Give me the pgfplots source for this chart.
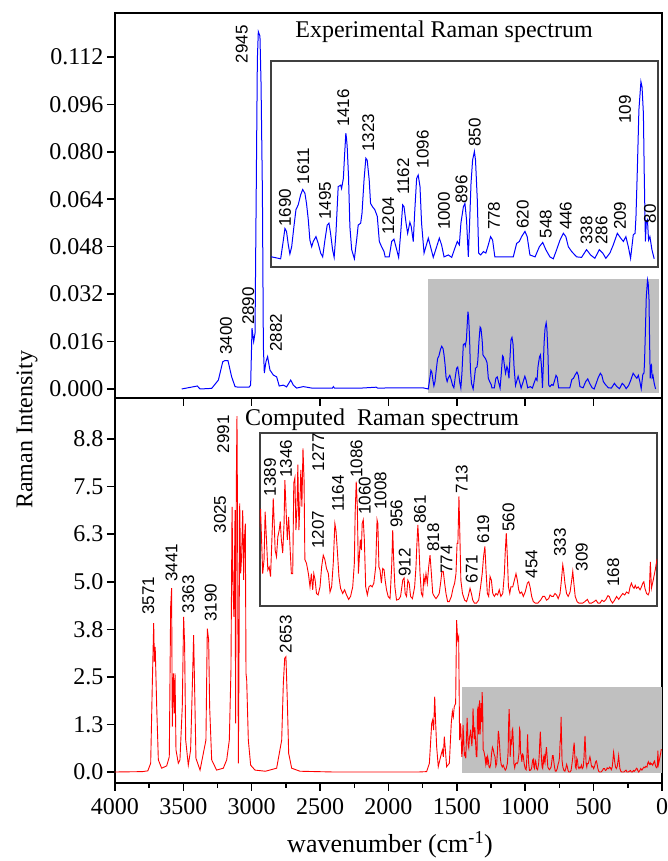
\documentclass[border=0pt]{standalone}
\usepackage{fontspec}
\setmainfont{Liberation Serif}
\newfontfamily\lab{Liberation Sans}
\usepackage{pgfplots}
\usepackage{pgfplotstable}
\pgfplotsset{compat=1.18}
\definecolor{silver}{RGB}{192,192,192}

\pgfplotstableread[row sep=\\]{
w I\\
3512 0.0000\\ 3398 0.0010\\ 3378 0.0000\\ 3293 0.0002\\ 3244 0.0030\\ 3212 0.0092\\ 3195 0.0096\\ 3174 0.0096\\ 3147 0.0041\\ 3122 0.0008\\
3100 0.0006\\ 3020 0.0006\\ 3008 0.0013\\ 2998 0.0205\\ 2986 0.0160\\ 2976 0.0188\\ 2969 0.0570\\ 2959 0.1110\\ 2952 0.1205\\ 2940 0.1190\\
2932 0.1030\\ 2922 0.0660\\ 2915 0.0143\\ 2908 0.0054\\ 2896 0.0092\\ 2884 0.0109\\ 2867 0.0064\\ 2842 0.0047\\ 2818 0.0041\\ 2799 0.0010\\
2769 0.0013\\ 2745 0.0007\\ 2715 0.0030\\ 2696 0.0013\\ 2672 0.0003\\ 2623 0.0008\\ 2560 0.0003\\ 2410 0.0003\\ 2403 0.0008\\ 2395 0.0003\\
2200 0.0003\\ 2090 0.0006\\ 2080 0.0003\\ 1900 0.0004\\ 1749 0.0004\\ 1709 0.0000\\ 1697 0.0039\\ 1690 0.0063\\ 1683 0.0057\\ 1675 0.0029\\
1668 0.0010\\ 1660 0.0025\\ 1650 0.0067\\ 1641 0.0102\\ 1631 0.0112\\ 1620 0.0133\\ 1611 0.0144\\ 1601 0.0136\\ 1594 0.0115\\ 1586 0.0081\\
1579 0.0039\\ 1571 0.0025\\ 1564 0.0036\\ 1552 0.0046\\ 1542 0.0032\\ 1531 0.0012\\ 1522 0.0004\\ 1512 0.0039\\ 1502 0.0070\\ 1494 0.0074\\
1487 0.0053\\ 1478 0.0019\\ 1471 0.0003\\ 1463 0.0053\\ 1453 0.0150\\ 1442 0.0153\\ 1438 0.0146\\ 1430 0.0167\\ 1425 0.0212\\ 1419 0.0261\\
1416 0.0250\\ 1413 0.0233\\ 1407 0.0170\\ 1401 0.0067\\ 1393 0.0019\\ 1381 0.0000\\ 1371 0.0039\\ 1364 0.0070\\ 1353 0.0074\\ 1347 0.0095\\
1338 0.0164\\ 1330 0.0209\\ 1324 0.0205\\ 1315 0.0164\\ 1309 0.0115\\ 1300 0.0108\\ 1290 0.0102\\ 1279 0.0088\\ 1270 0.0036\\ 1260 0.0025\\
1249 0.0015\\ 1244 0.0004\\ 1226 0.0004\\ 1215 0.0036\\ 1205 0.0041\\ 1196 0.0025\\ 1184 0.0003\\ 1175 0.0053\\ 1166 0.0112\\ 1160 0.0108\\
1151 0.0074\\ 1144 0.0053\\ 1134 0.0076\\ 1128 0.0067\\ 1119 0.0036\\ 1112 0.0102\\ 1104 0.0167\\ 1097 0.0174\\ 1089 0.0150\\ 1082 0.0074\\
1071 0.0012\\ 1063 0.0025\\ 1052 0.0043\\ 1042 0.0025\\ 1030 0.0003\\ 1015 0.0025\\ 1003 0.0043\\ 993 0.0029\\ 982 0.0004\\ 963 0.0008\\
948 0.0003\\ 934 0.0022\\ 923 0.0036\\ 914 0.0029\\ 907 0.0074\\ 896 0.0108\\ 889 0.0115\\ 882 0.0081\\ 874 0.0004\\ 870 0.0053\\
862 0.0157\\ 855 0.0205\\ 847 0.0223\\ 842 0.0205\\ 834 0.0122\\ 828 0.0012\\ 819 0.0008\\ 807 0.0015\\ 796 0.0012\\ 785 0.0029\\
775 0.0046\\ 766 0.0039\\ 756 0.0004\\ 674 0.0004\\ 659 0.0032\\ 647 0.0036\\ 637 0.0046\\ 622 0.0057\\ 612 0.0046\\ 600 0.0008\\
577 0.0004\\ 558 0.0025\\ 543 0.0034\\ 529 0.0019\\ 511 0.0004\\ 496 0.0000\\ 481 0.0019\\ 466 0.0039\\ 451 0.0053\\ 440 0.0046\\
429 0.0025\\ 414 0.0015\\ 392 0.0004\\ 370 0.0003\\ 348 0.0019\\ 330 0.0008\\ 311 0.0001\\ 291 0.0019\\ 276 0.0012\\ 262 0.0001\\
244 0.0012\\ 229 0.0029\\ 211 0.0053\\ 196 0.0043\\ 184 0.0036\\ 173 0.0046\\ 162 0.0025\\ 152 0.0001\\ 140 0.0050\\ 132 0.0053\\
128 0.0088\\ 122 0.0184\\ 115 0.0309\\ 106 0.0368\\ 101 0.0357\\ 95 0.0302\\ 91 0.0170\\ 86 0.0036\\ 82 0.0077\\ 77 0.0081\\
72 0.0039\\ 66 0.0046\\ 57 0.0019\\ 47 0.0000\\
}\expdata

\pgfplotstableread[row sep=\\]{
w I\\
4000 0.00\\ 3800 0.01\\ 3760 0.03\\ 3739 0.23\\ 3727 2.33\\ 3717 3.91\\ 3712 2.90\\ 3706 3.29\\ 3695 1.72\\ 3683 0.32\\
3659 0.10\\ 3622 0.16\\ 3603 0.40\\ 3593 4.34\\ 3586 4.83\\ 3581 1.19\\ 3573 2.59\\ 3566 1.54\\ 3561 2.59\\ 3554 0.58\\
3537 0.23\\ 3525 0.32\\ 3508 1.72\\ 3498 4.08\\ 3491 3.38\\ 3483 0.84\\ 3464 0.18\\ 3447 0.58\\ 3432 2.59\\ 3425 3.60\\
3417 2.07\\ 3408 0.36\\ 3378 0.05\\ 3335 0.84\\ 3325 3.77\\ 3315 3.47\\ 3308 1.72\\ 3293 0.32\\ 3257 0.05\\ 3208 0.10\\
3183 0.32\\ 3164 0.84\\ 3152 2.68\\ 3144 6.97\\ 3137 4.78\\ 3130 4.08\\ 3122 6.88\\ 3118 1.28\\ 3113 7.50\\ 3108 9.35\\
3103 6.10\\ 3098 0.23\\ 3093 3.00\\ 3088 7.06\\ 3081 5.22\\ 3074 5.66\\ 3066 6.88\\ 3059 5.05\\ 3054 6.10\\ 3047 6.53\\
3042 2.59\\ 3037 2.42\\ 3025 0.84\\ 3008 0.18\\ 2976 0.05\\ 2900 0.02\\ 2818 0.10\\ 2781 0.84\\ 2769 2.33\\ 2759 2.99\\
2750 3.03\\ 2740 1.89\\ 2730 0.49\\ 2708 0.10\\ 2647 0.02\\ 2400 0.00\\ 1780 0.00\\ 1721 0.01\\ 1701 0.23\\ 1684 1.28\\
1677 1.37\\ 1670 1.10\\ 1662 1.98\\ 1655 1.28\\ 1648 0.67\\ 1636 0.14\\ 1619 0.40\\ 1606 0.58\\ 1599 0.40\\ 1592 0.93\\
1584 0.58\\ 1575 0.14\\ 1555 0.23\\ 1541 1.28\\ 1533 1.59\\ 1526 1.45\\ 1519 1.72\\ 1509 1.80\\ 1502 3.99\\ 1494 3.47\\
1487 3.56\\ 1480 0.84\\ 1472 1.28\\ 1464 0.40\\ 1459 0.59\\ 1455 1.24\\ 1450 0.86\\ 1445 0.45\\ 1440 0.49\\ 1435 0.36\\
1430 0.86\\ 1425 1.42\\ 1421 1.04\\ 1418 0.72\\ 1413 0.63\\ 1408 0.90\\ 1403 0.99\\ 1399 1.11\\ 1395 0.86\\ 1390 0.68\\
1385 1.08\\ 1382 1.67\\ 1378 1.31\\ 1373 0.86\\ 1368 1.17\\ 1363 0.77\\ 1358 0.40\\ 1353 0.40\\ 1349 1.63\\ 1345 1.70\\
1341 0.99\\ 1337 1.31\\ 1334 1.88\\ 1330 0.99\\ 1326 1.40\\ 1323 1.81\\ 1319 1.31\\ 1315 2.10\\ 1311 1.67\\ 1308 0.59\\
1302 0.54\\ 1295 0.40\\ 1289 0.22\\ 1284 0.40\\ 1279 0.18\\ 1275 0.40\\ 1270 0.31\\ 1265 0.13\\ 1259 0.11\\ 1252 0.22\\
1246 0.49\\ 1240 0.65\\ 1234 0.59\\ 1228 0.47\\ 1221 0.40\\ 1215 0.15\\ 1209 0.22\\ 1203 0.54\\ 1197 1.08\\ 1193 0.99\\
1188 0.72\\ 1182 0.36\\ 1176 0.20\\ 1168 0.13\\ 1161 0.18\\ 1154 0.11\\ 1146 0.05\\ 1139 0.09\\ 1131 0.22\\ 1125 0.54\\
1122 1.22\\ 1118 1.65\\ 1114 1.31\\ 1110 0.40\\ 1107 0.59\\ 1103 0.86\\ 1099 0.72\\ 1096 1.08\\ 1092 1.13\\ 1088 0.86\\
1083 0.22\\ 1077 0.11\\ 1071 0.22\\ 1065 0.24\\ 1059 0.22\\ 1053 0.27\\ 1046 0.49\\ 1041 1.13\\ 1038 1.08\\ 1034 0.49\\
1030 0.45\\ 1025 0.27\\ 1020 0.47\\ 1015 0.45\\ 1011 0.31\\ 1006 0.18\\ 1000 0.09\\ 993 0.06\\ 987 0.49\\ 983 0.99\\
980 0.63\\ 975 0.22\\ 969 0.04\\ 961 0.05\\ 954 0.09\\ 946 0.31\\ 941 0.34\\ 937 0.13\\ 932 0.09\\ 927 0.31\\
922 0.27\\ 917 0.09\\ 910 0.06\\ 902 0.22\\ 897 0.49\\ 894 0.77\\ 890 1.06\\ 886 0.77\\ 882 0.40\\ 877 0.13\\
872 0.09\\ 868 0.36\\ 864 0.27\\ 860 0.40\\ 855 0.27\\ 850 0.49\\ 845 0.65\\ 840 0.40\\ 835 0.13\\ 829 0.09\\
823 0.06\\ 817 0.09\\ 811 0.13\\ 806 0.27\\ 801 0.43\\ 796 0.43\\ 791 0.27\\ 786 0.13\\ 780 0.02\\ 774 0.02\\
766 0.09\\ 760 0.20\\ 754 0.27\\ 749 0.40\\ 745 0.81\\ 742 0.81\\ 738 1.45\\ 734 0.81\\ 731 0.31\\ 725 0.13\\
717 0.04\\ 710 0.02\\ 704 0.09\\ 697 0.20\\ 692 0.13\\ 687 0.04\\ 681 0.00\\ 673 0.00\\ 665 0.04\\ 658 0.22\\
652 0.40\\ 647 0.63\\ 642 0.77\\ 638 0.45\\ 633 0.13\\ 628 0.09\\ 623 0.36\\ 618 0.31\\ 613 0.13\\ 607 0.09\\
601 0.13\\ 595 0.11\\ 589 0.18\\ 583 0.09\\ 576 0.13\\ 570 0.40\\ 567 0.68\\ 563 0.95\\ 559 0.63\\ 555 0.22\\
550 0.13\\ 546 0.22\\ 539 0.22\\ 533 0.31\\ 527 0.40\\ 522 0.31\\ 517 0.18\\ 512 0.13\\ 506 0.15\\ 500 0.09\\
493 0.15\\ 485 0.27\\ 480 0.29\\ 475 0.22\\ 469 0.09\\ 463 0.02\\ 456 0.00\\ 446 0.00\\ 436 0.04\\ 428 0.09\\
421 0.09\\ 414 0.04\\ 406 0.06\\ 401 0.11\\ 395 0.09\\ 389 0.09\\ 383 0.13\\ 377 0.11\\ 371 0.06\\ 364 0.13\\
359 0.31\\ 354 0.52\\ 351 0.45\\ 346 0.27\\ 340 0.13\\ 334 0.09\\ 327 0.15\\ 321 0.31\\ 317 0.43\\ 313 0.27\\
308 0.09\\ 301 0.02\\ 295 0.00\\ 288 0.00\\ 280 0.00\\ 272 0.02\\ 263 0.05\\ 256 0.00\\ 247 0.00\\ 238 0.02\\
231 0.04\\ 224 0.00\\ 216 0.00\\ 209 0.04\\ 202 0.02\\ 194 0.05\\ 187 0.10\\ 182 0.09\\ 177 0.04\\ 170 0.00\\
162 0.04\\ 155 0.09\\ 147 0.05\\ 140 0.09\\ 132 0.13\\ 125 0.11\\ 118 0.15\\ 110 0.13\\ 105 0.22\\ 100 0.27\\
95 0.22\\ 90 0.20\\ 86 0.24\\ 81 0.20\\ 75 0.22\\ 68 0.18\\ 63 0.22\\ 58 0.27\\ 54 0.29\\ 50 0.20\\
44 0.13\\ 38 0.11\\ 34 0.15\\ 30 0.56\\ 26 0.20\\ 20 0.30\\ 12 0.45\\ 5 0.60\\
}\compdata

\tikzset{lbl/.style={font=\lab\fontsize{17}{17}\selectfont, rotate=90, anchor=west, inner sep=0pt, outer sep=0pt}}

\begin{document}
\begin{tikzpicture}
\pgfplotsset{
  panel/.style={scale only axis, width=547pt, height=385pt, anchor=south west,
    x dir=reverse, xmin=0, xmax=4000, xtick={0,500,1000,1500,2000,2500,3000,3500,4000},
    axis line style={line width=2pt}, tick style={line width=1.5pt, black},
    tick align=outside, major tick length=8pt, minor tick length=5pt,
    xtick pos=bottom, ytick pos=left,
    ticklabel style={font=\fontsize{24}{24}\selectfont},
    xticklabel style={yshift=-4pt},
    /pgf/number format/assume math mode=true, /pgf/number format/1000 sep={}},
  inset/.style={scale only axis, anchor=south west, x dir=reverse,
    axis line style={line width=1.4pt, black!75}, ticks=none,
    axis background/.style={fill=white}}
}
% ---------- top panel ----------
\begin{axis}[panel, at={(115pt,463pt)}, ymin=-0.00304, ymax=0.1268, xticklabels={},
  ytick={0,0.016,0.032,0.048,0.064,0.080,0.096,0.112},
  yticklabels={0.000,0.016,0.032,0.048,0.064,0.080,0.096,0.112}]
\fill[silver] (axis cs:1711,-0.0014) rectangle (axis cs:22,0.0371);
\addplot[blue, line width=1pt, mark=none] table[x=w,y=I]{\expdata};
\node[lbl] at (axis cs:3073,0.1099) {2945};
\node[lbl] at (axis cs:3188,0.0115) {3400};
\node[lbl] at (axis cs:3025,0.0216) {2890};
\node[lbl] at (axis cs:2823,0.0126) {2882};
\end{axis}
% ---------- top inset ----------
\begin{axis}[inset, at={(271pt,594pt)}, width=387pt, height=206pt,
  xmin=30, xmax=1752, ymin=-0.0017, ymax=0.0411]
\addplot[blue, line width=1pt, mark=none] table[x=w,y=I]{\expdata};
\node[lbl] at (axis cs:1690,0.0067) {1690};
\node[lbl] at (axis cs:1608,0.0155) {1611};
\node[lbl] at (axis cs:1512,0.0081) {1495};
\node[lbl] at (axis cs:1430,0.0274) {1416};
\node[lbl] at (axis cs:1319,0.0223) {1323};
\node[lbl] at (axis cs:1230,0.0050) {1204};
\node[lbl] at (axis cs:1163,0.0133) {1162};
\node[lbl] at (axis cs:1077,0.0188) {1096};
\node[lbl] at (axis cs:982,0.0060) {1000};
\node[lbl] at (axis cs:904,0.0115) {896};
\node[lbl] at (axis cs:845,0.0233) {850};
\node[lbl] at (axis cs:760,0.0060) {778};
\node[lbl] at (axis cs:632,0.0063) {620};
\node[lbl] at (axis cs:529,0.0043) {548};
\node[lbl] at (axis cs:440,0.0060) {446};
\node[lbl] at (axis cs:348,0.0029) {338};
\node[lbl] at (axis cs:281,0.0029) {286};
\node[lbl] at (axis cs:199,0.0060) {209};
\node[lbl] at (axis cs:177,0.0281) {109};
\node[lbl] at (axis cs:66,0.0074) {80};
\end{axis}
% ---------- bottom panel ----------
\begin{axis}[panel, at={(115pt,78pt)}, ymin=-0.289, ymax=9.83, minor x tick num=1,
  ytick={0,1.25,2.5,3.75,5,6.25,7.5,8.75},
  yticklabels={0.0,1.3,2.5,3.8,5.0,6.3,7.5,8.8}]
\fill[silver] (axis cs:1465,-0.03) rectangle (axis cs:0,2.24);
\addplot[red, line width=0.9pt, mark=none] table[x=w,y=I]{\compdata};
\node[lbl] at (axis cs:3756,4.13) {3571};
\node[lbl] at (axis cs:3586,5.00) {3441};
\node[lbl] at (axis cs:3464,4.17) {3363};
\node[lbl] at (axis cs:3300,3.95) {3190};
\node[lbl] at (axis cs:3232,6.27) {3025};
\node[lbl] at (axis cs:3208,8.38) {2991};
\node[lbl] at (axis cs:2752,3.12) {2653};
\end{axis}
% ---------- bottom inset ----------
\begin{axis}[inset, at={(260pt,255pt)}, width=397pt, height=173pt,
  xmin=5.4, xmax=1474, ymin=-0.04, ymax=2.31]
\addplot[red, line width=0.9pt, mark=none] table[x=w,y=I]{\compdata};
\node[lbl] at (axis cs:1437,1.45) {1389};
\node[lbl] at (axis cs:1378,1.70) {1346};
\node[lbl] at (axis cs:1259,1.79) {1277};
\node[lbl] at (axis cs:1259,0.74) {1207};
\node[lbl] at (axis cs:1185,1.24) {1164};
\node[lbl] at (axis cs:1117,1.70) {1086};
\node[lbl] at (axis cs:1086,1.20) {1060};
\node[lbl] at (axis cs:1028,1.27) {1008};
\node[lbl] at (axis cs:969,1.02) {956};
\node[lbl] at (axis cs:938,0.36) {912};
\node[lbl] at (axis cs:882,1.08) {861};
\node[lbl] at (axis cs:833,0.70) {818};
\node[lbl] at (axis cs:784,0.40) {774};
\node[lbl] at (axis cs:728,1.49) {713};
\node[lbl] at (axis cs:691,0.27) {671};
\node[lbl] at (axis cs:648,0.81) {619};
\node[lbl] at (axis cs:555,0.97) {560};
\node[lbl] at (axis cs:469,0.34) {454};
\node[lbl] at (axis cs:364,0.63) {333};
\node[lbl] at (axis cs:284,0.43) {309};
\node[lbl] at (axis cs:167,0.22) {168};
\end{axis}
% ---------- titles and axis labels ----------
\node[font=\fontsize{24}{24}\selectfont] at (444pt,829pt) {Experimental Raman spectrum};
\node[font=\fontsize{24}{24}\selectfont] at (382pt,441pt) {Computed\ \ Raman spectrum};
\node[font=\fontsize{24}{24}\selectfont, rotate=90] at (27pt,431pt) {Raman Intensity};
\node[font=\fontsize{26}{26}\selectfont] at (390pt,16pt) {wavenumber (cm\textsuperscript{-1})};
\pgfresetboundingbox
\path[use as bounding box] (0,0) rectangle (668pt,861pt);
\end{tikzpicture}
\end{document}
